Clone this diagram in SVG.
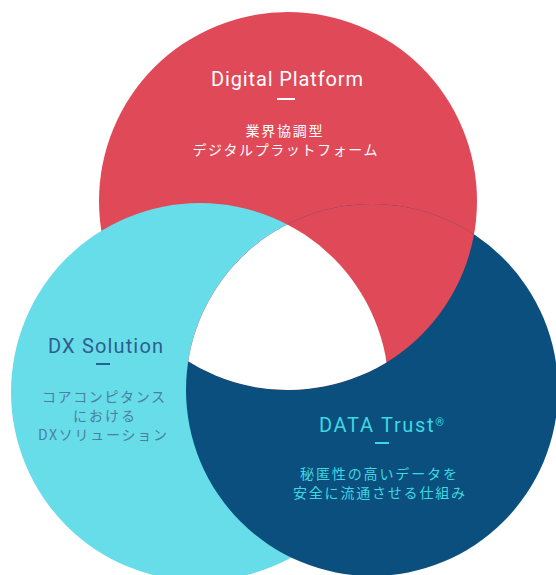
<svg xmlns="http://www.w3.org/2000/svg" width="556" height="575" viewBox="0 0 556 575">
<style>
.title{font-family:Roboto,"Liberation Sans",Arial,sans-serif;font-size:20px;font-weight:400;text-anchor:middle}
.jp{font-family:"Noto Sans CJK JP","Noto Sans",sans-serif;font-size:14px;text-anchor:middle}
.dash{stroke-width:2}
</style>
<defs>
<clipPath id="clipB"><circle cx="372" cy="390" r="186"/></clipPath>
<clipPath id="clipR"><circle cx="288" cy="201" r="189"/></clipPath>
</defs>
<rect width="556" height="575" fill="#ffffff"/>
<g id="digital-platform">
<circle cx="288" cy="201" r="189" fill="#E04A58"/>
<text class="title" x="287" y="86" fill="#ffffff" textLength="152" lengthAdjust="spacing">Digital Platform</text>
<line class="dash" x1="277" y1="99" x2="295" y2="99" stroke="#ffffff"/>
<text class="jp" x="284" y="136" fill="#ffffff" textLength="77" lengthAdjust="spacing">業界協調型</text>
<text class="jp" x="285" y="155" fill="#ffffff" textLength="185" lengthAdjust="spacing">デジタルプラットフォーム</text>
</g>
<g id="dx-solution">
<circle cx="200" cy="392" r="189" fill="#67DDE9"/>
<text class="title" x="105.5" y="353" fill="#2D5E8E" textLength="115" lengthAdjust="spacing">DX Solution</text>
<line class="dash" x1="96" y1="364" x2="110" y2="364" stroke="#2D5E8E"/>
<text class="jp" x="103.5" y="402" fill="#4A7FA3" textLength="123" lengthAdjust="spacing">コアコンピタンス</text>
<text class="jp" x="104" y="421" fill="#4A7FA3" textLength="62" lengthAdjust="spacing">における</text>
<text class="jp" x="102.5" y="440" fill="#4A7FA3" textLength="129" lengthAdjust="spacing">DXソリューション</text>
</g>
<g id="data-trust">
<circle cx="372" cy="390" r="186" fill="#0A4F7D"/>
<text class="title" x="381.5" y="432" fill="#3ED8E2" textLength="125" lengthAdjust="spacing">DATA Trust<tspan font-size="11" baseline-shift="super">®</tspan></text>
<line class="dash" x1="375" y1="443" x2="389" y2="443" stroke="#3ED8E2"/>
<text class="jp" x="378.5" y="479" fill="#3ED8E2" textLength="157" lengthAdjust="spacing">秘匿性の高いデータを</text>
<text class="jp" x="379" y="498" fill="#3ED8E2" textLength="172" lengthAdjust="spacing">安全に流通させる仕組み</text>
</g>
<g id="overlaps">
<circle cx="288" cy="201" r="189" fill="#E04A58" clip-path="url(#clipB)"/>
<g clip-path="url(#clipB)"><g clip-path="url(#clipR)"><circle cx="200" cy="392" r="189" fill="#ffffff"/></g></g>
</g>
</svg>
